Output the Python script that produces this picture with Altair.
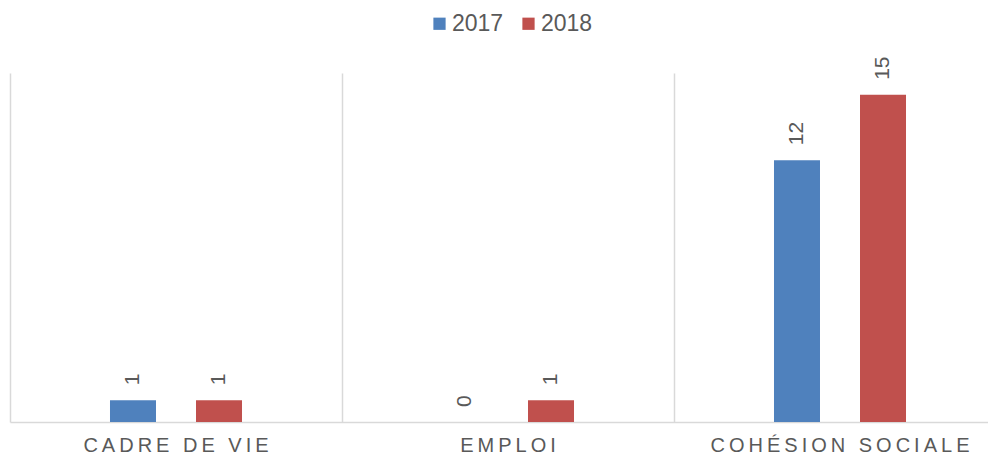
import altair as alt
import pandas as pd

categories = ["CADRE DE VIE", "EMPLOI", "COHÉSION SOCIALE"]
values_2017 = [1, 0, 12]
values_2018 = [1, 1, 15]
years = ["2017", "2018"]
colors = ["#4f81bd", "#c0504d"]

rows = []
for c, a, b in zip(categories, values_2017, values_2018):
    rows.append({"cat": c, "year": years[0], "value": a})
    rows.append({"cat": c, "year": years[1], "value": b})
df = pd.DataFrame(rows)

font = "Liberation Sans"
gray = "#595959"

x_enc = alt.X(
    "cat:N",
    sort=categories,
    title=None,
    scale=alt.Scale(paddingInner=0, paddingOuter=0, range=[0, 996]),
    axis=alt.Axis(
        grid=True,
        bandPosition=0,
        gridColor="#d9d9d9",
        gridWidth=1.5,
        domainColor="#d9d9d9",
        domainWidth=1.5,
        ticks=False,
        labelAngle=0,
        labelFont=font,
        labelFontSize=20,
        labelColor=gray,
        labelPadding=13,
        labelLimit=0,
        labelExpr="join(split(datum.label, ''), '\u2009')",
    ),
)
xoff = alt.XOffset("year:N", sort=years,
                   scale=alt.Scale(paddingInner=0, paddingOuter=0.93))
y_enc = alt.Y("value:Q", axis=None, scale=alt.Scale(domain=[0, 16], nice=False))
color_enc = alt.Color(
    "year:N",
    sort=years,
    scale=alt.Scale(domain=years, range=colors),
    legend=alt.Legend(
        title=None,
        orient="none",
        direction="horizontal",
        legendX=418,
        legendY=-61,
        padding=0,
        symbolType="square",
        symbolSize=150,
        symbolStrokeWidth=0,
        labelFont=font,
        labelFontSize=23,
        labelColor=gray,
        labelOffset=1,
        columnPadding=13,
    ),
)

bars = alt.Chart(df).mark_bar(width=46).encode(x=x_enc, xOffset=xoff, y=y_enc, color=color_enc)
labels = alt.Chart(df).mark_text(
    angle=270, align="left", baseline="middle", dx=15,
    font=font, fontSize=21, color=gray
).encode(x=alt.X("cat:N", sort=categories), xOffset=xoff, y=y_enc, text="value:Q")

chart = (bars + labels).properties(
    width=978, height=349,
    autosize=alt.AutoSizeParams(type="none"),
    padding={"left": 10, "top": 73, "right": 0, "bottom": 37},
).configure_view(stroke=None)

chart.save("out.html", embed_options={"renderer": "svg", "actions": False})
